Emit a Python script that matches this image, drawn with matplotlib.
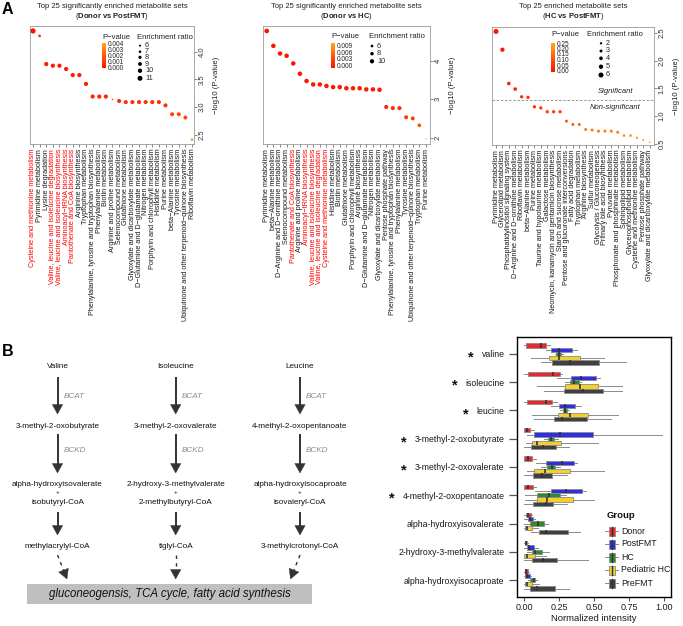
import numpy as np
import matplotlib
matplotlib.use("Agg")
import matplotlib.pyplot as plt
from matplotlib.colors import LinearSegmentedColormap
from matplotlib.patches import Rectangle, Polygon

plt.rcParams['font.family'] = ['Liberation Sans', 'DejaVu Sans']
plt.rcParams['mathtext.fontset'] = 'custom'
plt.rcParams['mathtext.rm'] = 'Liberation Sans'
plt.rcParams['mathtext.bf'] = 'Liberation Sans:bold'
plt.rcParams['mathtext.it'] = 'Liberation Sans:italic'

W, H = 683, 626

# ---------------- Panel A data ----------------
sets_dp = ["Cysteine and methionine metabolism", "Pyrimidine metabolism", "Lysine degradation",
           "Valine, leucine and isoleucine degradation", "Valine, leucine and isoleucine biosynthesis",
           "Aminoacyl−tRNA biosynthesis", "Pantothenate and CoA biosynthesis", "Arginine biosynthesis",
           "Tryptophan metabolism", "Phenylalanine, tyrosine and tryptophan biosynthesis",
           "Phenylalanine metabolism", "Biotin metabolism", "Arginine and proline metabolism",
           "Selenocompound metabolism", "Glutathione metabolism", "Glyoxylate and dicarboxylate metabolism",
           "D−Glutamine and D−glutamate metabolism", "Nitrogen metabolism",
           "Porphyrin and chlorophyll metabolism", "Histidine metabolism", "Purine metabolism",
           "beta−Alanine metabolism", "Tyrosine metabolism",
           "Ubiquinone and other terpenoid−quinone biosynthesis", "Riboflavin metabolism"]
logp_dp = [4.38, 4.29, 3.78, 3.75, 3.75, 3.69, 3.58, 3.58, 3.42, 3.19, 3.19, 3.19, 3.14, 3.11, 3.09,
           3.09, 3.09, 3.09, 3.09, 3.09, 3.03, 2.87, 2.87, 2.81, 2.41]
ratio_dp = [11.5, 7.0, 9.7, 9.7, 9.7, 9.7, 9.7, 9.7, 9.7, 9.7, 9.7, 9.7, 5.0, 9.5, 9.5, 9.5, 9.5,
            9.5, 9.5, 9.5, 9.5, 9.3, 9.3, 9.3, 7.0]
red_dp = ["Cysteine and methionine metabolism", "Valine, leucine and isoleucine degradation",
          "Valine, leucine and isoleucine biosynthesis", "Aminoacyl−tRNA biosynthesis",
          "Pantothenate and CoA biosynthesis"]

sets_dh = ["Pyrimidine metabolism", "beta−Alanine metabolism", "D−Arginine and D−ornithine metabolism",
           "Selenocompound metabolism", "Pantothenate and CoA biosynthesis", "Arginine and proline metabolism",
           "Aminoacyl−tRNA biosynthesis", "Valine, leucine and isoleucine biosynthesis",
           "Valine, leucine and isoleucine degradation", "Cysteine and methionine metabolism",
           "Histidine metabolism", "Biotin metabolism", "Glutathione metabolism",
           "Porphyrin and chlorophyll metabolism", "Arginine biosynthesis",
           "D−Glutamine and D−glutamate metabolism", "Nitrogen metabolism",
           "Glyoxylate and dicarboxylate metabolism", "Pentose phosphate pathway",
           "Phenylalanine, tyrosine and tryptophan biosynthesis", "Phenylalanine metabolism",
           "Tyrosine metabolism", "Ubiquinone and other terpenoid−quinone biosynthesis",
           "Tryptophan metabolism", "Purine metabolism"]
logp_dh = [4.79, 4.40, 4.20, 4.14, 3.94, 3.67, 3.48, 3.39, 3.39, 3.35, 3.32, 3.32, 3.29, 3.29, 3.29,
           3.26, 3.26, 3.25, 2.80, 2.77, 2.77, 2.53, 2.50, 2.32, 1.96]
ratio_dh = [11.0, 10.5, 10.5, 10.5, 10.5, 10.5, 10.5, 10.5, 10.5, 10.5, 10.5, 10.5, 10.5, 10.5, 10.5,
            10.5, 10.5, 10.5, 9.5, 9.5, 9.5, 9.3, 9.3, 8.5, 2.5]
red_dh = ["Pantothenate and CoA biosynthesis", "Aminoacyl−tRNA biosynthesis",
          "Valine, leucine and isoleucine biosynthesis", "Valine, leucine and isoleucine degradation",
          "Cysteine and methionine metabolism"]

sets_hp = ["Pyrimidine metabolism", "Glycerolipid metabolism", "Phosphatidylinositol signaling system",
           "D−Arginine and D−ornithine metabolism", "Riboflavin metabolism", "beta−Alanine metabolism",
           "Purine metabolism", "Taurine and hypotaurine metabolism", "Galactose metabolism",
           "Neomycin, kanamycin and gentamicin biosynthesis", "Starch and sucrose metabolism",
           "Pentose and glucuronate interconversions", "Fatty acid degradation", "Tryptophan metabolism",
           "Arginine biosynthesis", "Sulfur metabolism", "Glycolysis / Gluconeogenesis",
           "Primary bile acid biosynthesis", "Pyruvate metabolism", "Phosphonate and phosphinate metabolism",
           "Sphingolipid metabolism", "Glycerophospholipid metabolism", "Cysteine and methionine metabolism",
           "Pentose phosphate pathway", "Glyoxylate and dicarboxylate metabolism"]
logp_hp = [2.53, 2.20, 1.59, 1.49, 1.35, 1.34, 1.17, 1.15, 1.08, 1.08, 1.08, 0.91, 0.85, 0.85, 0.76,
           0.75, 0.73, 0.73, 0.73, 0.71, 0.65, 0.65, 0.61, 0.57, 0.53]
ratio_hp = [6.0, 5.0, 4.0, 4.0, 3.5, 3.5, 3.5, 3.5, 3.5, 3.5, 3.5, 3.0, 3.0, 3.0, 3.0, 3.0, 3.0, 3.0,
            3.0, 3.0, 2.5, 2.5, 2.0, 1.6, 1.2]

# ---------------- Panel B data ----------------
metabolites = ["valine", "isoleucine", "leucine", "3-methyl-2-oxobutyrate", "3-methyl-2-oxovalerate",
               "4-methyl-2-oxopentanoate", "alpha-hydroxyisovalerate", "2-hydroxy-3-methylvalerate",
               "alpha-hydroxyisocaproate"]
starred = [0, 1, 2, 3, 4, 5]
groups = ["Donor", "PostFMT", "HC", "Pediatric HC", "PreFMT"]
group_colors = ["#E8282B", "#2F2FE0", "#2E8A2E", "#F4D12A", "#404040"]
# (whisker low, Q1, median, Q3, whisker high) for each metabolite
donor_stats = [[0.0, 0.012, 0.12, 0.154, 0.184], [0.0, 0.031, 0.205, 0.257, 0.274],
               [0.0, 0.023, 0.156, 0.2, 0.237], [0.0, 0.0, 0.024, 0.043, 0.073],
               [0.0, 0.0, 0.03, 0.059, 0.083], [0.0, 0.002, 0.03, 0.064, 0.083],
               [0.0, 0.012, 0.03, 0.047, 0.06], [0.0, 0.007, 0.015, 0.024, 0.03],
               [0.0, 0.007, 0.015, 0.03, 0.035]]
postfmt_stats = [[0.16, 0.194, 0.248, 0.345, 0.376], [0.239, 0.333, 0.409, 0.511, 0.546],
                 [0.191, 0.25, 0.291, 0.362, 0.404], [0.02, 0.071, 0.255, 0.492, 0.988],
                 [0.083, 0.156, 0.274, 0.355, 0.381], [0.078, 0.193, 0.3, 0.412, 0.44],
                 [0.0, 0.026, 0.04, 0.066, 0.08], [0.0, 0.019, 0.035, 0.071, 0.1],
                 [0.0, 0.01, 0.02, 0.04, 0.05]]
hc_stats = [[0.22, 0.232, 0.248, 0.267, 0.28], [0.29, 0.326, 0.36, 0.39, 0.41],
            [0.26, 0.28, 0.291, 0.307, 0.32], [0.14, 0.168, 0.19, 0.215, 0.24],
            [0.12, 0.165, 0.2, 0.22, 0.26], [0.01, 0.094, 0.175, 0.26, 0.3],
            [0.0, 0.043, 0.1, 0.142, 0.172], [0.02, 0.054, 0.078, 0.125, 0.18],
            [0.03, 0.045, 0.07, 0.078, 0.09]]
pediatric_stats = [[0.047, 0.176, 0.25, 0.397, 0.572], [0.09, 0.291, 0.397, 0.527, 0.697],
                   [0.06, 0.243, 0.326, 0.456, 0.67], [0.014, 0.054, 0.094, 0.262, 0.527],
                   [0.02, 0.073, 0.149, 0.326, 0.574], [0.01, 0.09, 0.161, 0.35, 0.503],
                   [0.0, 0.007, 0.02, 0.059, 0.1], [0.0, 0.0, 0.02, 0.078, 0.16],
                   [0.0, 0.007, 0.02, 0.054, 0.11]]
prefmt_stats = [[0.12, 0.203, 0.326, 0.539, 0.73], [0.144, 0.284, 0.421, 0.567, 0.697],
                [0.071, 0.215, 0.274, 0.452, 0.622], [0.0, 0.047, 0.137, 0.225, 0.319],
                [0.0, 0.064, 0.125, 0.198, 0.31], [0.0, 0.062, 0.154, 0.208, 0.31],
                [0.047, 0.106, 0.154, 0.314, 0.397], [0.0, 0.06, 0.137, 0.236, 0.456],
                [0.0, 0.043, 0.094, 0.22, 0.32]]
all_stats = [donor_stats, postfmt_stats, hc_stats, pediatric_stats, prefmt_stats]
xticks_b = [0.0, 0.25, 0.5, 0.75, 1.0]
xticklabels_b = ["0.00", "0.25", "0.50", "0.75", "1.00"]

# pathway diagram text
amino_acids = ["Valine", "Isoleucine", "Leucine"]
keto_acids = ["3-methyl-2-oxobutyrate", "3-methyl-2-oxovalerate", "4-methyl-2-oxopentanoate"]
hydroxy_acids = ["alpha-hydroxyisovalerate", "2-hydroxy-3-methylvalerate", "alpha-hydroxyisocaproate"]
acyl_coas = ["isobutyryl-CoA", "2-methylbutyryl-CoA", "isovaleryl-CoA"]
final_coas = ["methylacrylyl-CoA", "tiglyl-CoA", "3-methylcrotonyl-CoA"]
enzymes = ["BCAT", "BCKD"]
end_text = "gluconeogensis, TCA cycle, fatty acid synthesis"

# ---------------- figure ----------------
fig = plt.figure(figsize=(W / 100, H / 100), dpi=100)
cmap = LinearSegmentedColormap.from_list("pv", ["#FF1200", "#FF5A0A", "#FFA71E"])


def add_ax(x0, y0, x1, y1):
    return fig.add_axes([x0 / W, 1 - y1 / H, (x1 - x0) / W, (y1 - y0) / H])


ov = fig.add_axes([0, 0, 1, 1])
ov.set_zorder(10)
ov.axis('off')


def px2pt_area(d):
    return (d * 0.72) ** 2


def dotpanel(box, names, logp, ratio, reds, pmax, dfun, ylim, yticks, ytl, xlim, t1, t2):
    ax = add_ax(*box)
    x = np.arange(1, len(names) + 1)
    lp = np.array(logp)
    p = 10 ** (-lp)
    cols = cmap(np.clip(p / pmax, 0, 1))
    d = dfun(np.array(ratio))
    ax.scatter(x, lp, s=px2pt_area(d), c=cols, edgecolors='none', zorder=3, clip_on=False)
    ax.set_xlim(*xlim)
    ax.set_ylim(*ylim)
    ax.tick_params(length=2, width=0.5, color='#555', pad=1.5)
    ax.tick_params(axis='y', labelcolor='#333')
    ax.set_xticks(x)
    ax.set_xticklabels(names, rotation=90, fontsize=5.2)
    for lab, nm in zip(ax.get_xticklabels(), names):
        lab.set_color('#FF0000' if nm in reds else '#1a1a1a')
    ax.yaxis.tick_right()
    ax.set_yticks(yticks)
    ax.set_yticklabels(ytl, fontsize=5.5, rotation=90, va='center')
    ax.yaxis.set_label_position('right')
    ax.set_ylabel('−log10 (P-value)', fontsize=5.6, labelpad=5, color='#222')
    for sp in ax.spines.values():
        sp.set_color('#9a9a9a')
        sp.set_linewidth(0.6)
    cx = (box[0] + box[2]) / 2
    ov.text(cx, 6.5, t1, ha='center', va='center', fontsize=5.5, color='#222')
    ov.text(cx, 16.5, t2, ha='center', va='center', fontsize=5.5, color='#222')
    return ax


def dp_size(r):
    return 2.0 + (r - 6) * 0.6


def dh_size(r):
    return 2.7 + (r - 6) * 0.4


def hp_size(r):
    return 2.3 + (r - 2) * 0.675


ax1 = dotpanel((30, 26, 194, 144), sets_dp, logp_dp, ratio_dp, red_dp, 0.0042, dp_size,
               (2.33, 4.47), [2.5, 3.0, 3.5, 4.0], ["2.5", "3.0", "3.5", "4.0"], (0.55, 25.3),
               "Top 25 significantly enriched metabolite sets", r"($\mathbf{Donor\ vs\ PostFMT}$)")
ax2 = dotpanel((263, 26, 430, 144), sets_dh, logp_dh, ratio_dh, red_dh, 0.0107, dh_size,
               (1.83, 4.92), [2, 3, 4], ["2", "3", "4"], (0.44, 25.6),
               "Top 25 significantly enriched metabolite sets", r"($\mathbf{Donor\ vs\ HC}$)")
ax3 = dotpanel((492, 27, 654, 145), sets_hp, logp_hp, ratio_hp, [], 0.27, hp_size,
               (0.48, 2.61), [0.5, 1.0, 1.5, 2.0, 2.5], ["0.5", "1.0", "1.5", "2.0", "2.5"], (0.375, 25.67),
               "Top 25 enriched metabolite sets", r"($\mathbf{HC\ vs\ PostFMT}$)")
ax3.axhline(-np.log10(0.05), color='#888', lw=0.6, ls=(0, (3, 2)), zorder=1)
ax3.text(19.6, 1.45, "Significant", fontsize=5.5, style='italic', ha='center', va='center', color='#222')
ax3.text(19.6, 1.16, "Non-significant", fontsize=5.5, style='italic', ha='center', va='center', color='#222')

grad = np.linspace(0, 1, 100).reshape(-1, 1)


def legendA(cb_x, cb_y0, cb_y1, pt_title_x, ptick_labels, ptick_y, er_title_x, er_dot_x, er_vals, er_y, dfun, title_y):
    ov.imshow(grad, extent=(cb_x, cb_x + 4, cb_y1, cb_y0), aspect='auto', cmap=cmap, origin='lower', zorder=5)
    ov.text(pt_title_x, title_y, "P−value", fontsize=5.5, ha='center', va='center', color='#222')
    for lab, yy in zip(ptick_labels, ptick_y):
        ov.text(cb_x + 6, yy, lab, fontsize=4.7, ha='left', va='center', color='#222')
    ov.text(er_title_x, title_y, "Enrichment ratio", fontsize=5.5, ha='center', va='center', color='#222')
    for v, yy in zip(er_vals, er_y):
        ov.scatter([er_dot_x], [yy], s=px2pt_area(dfun(v)), color='black', edgecolors='none', zorder=6)
        ov.text(er_dot_x + 5, yy, str(v), fontsize=5.2, ha='left', va='center', color='#222')


legendA(102, 43.5, 68.5, 116, ["0.004", "0.003", "0.002", "0.001", "0.000"],
        np.linspace(44, 68.3, 5), 165, 140, [6, 7, 8, 9, 10, 11],
        [45.7, 51.7, 57.3, 64, 70.7, 78.3], dp_size, 37.5)
legendA(331, 43.5, 67.7, 345, ["0.009", "0.006", "0.003", "0.000"],
        [47, 53.7, 59.7, 66], 397, 372, [6, 8, 10], [46, 53.7, 61.3], dh_size, 36.5)
legendA(551, 43.5, 71.7, 565, ["0.25", "0.20", "0.15", "0.10", "0.05", "0.00"],
        np.linspace(44, 71.5, 6), 615, 601, [2, 3, 4, 5, 6], [43.3, 51, 58.3, 66.7, 75], hp_size, 34)

ov.text(2, 10, "A", fontsize=11.5, fontweight='bold', ha='left', va='center')
ov.text(2, 352, "B", fontsize=11.5, fontweight='bold', ha='left', va='center')

# ---------------- pathway diagram ----------------
col_x = [57.5, 175.7, 300.0]
ac = '#333333'


def arrow(x0, y0, x1, y1, dashed=False):
    v = np.array([x1 - x0, y1 - y0], float)
    L = np.hypot(*v)
    u = v / L
    n = np.array([-u[1], u[0]])
    hl, hw = 9.5, 5.2
    base = np.array([x1, y1]) - u * hl
    ov.plot([x0, base[0] + u[0]], [y0, base[1] + u[1]], color=ac, lw=1.4 if not dashed else 1.0,
            ls=(0, (2.5, 3)) if dashed else '-', solid_capstyle='butt')
    tri = [[x1, y1], base + n * hw, base - n * hw]
    ov.add_patch(Polygon(tri, closed=True, facecolor=ac, edgecolor=ac, lw=0.3))


fs_d = 5.9
for i, cx in enumerate(col_x):
    ov.text(cx, 366, amino_acids[i], fontsize=fs_d, ha='center', va='center', color='#111')
    arrow(cx, 377, cx, 414)
    ov.text(cx + 6, 396, enzymes[0], fontsize=5.9, style='italic', color='#8c8c8c', ha='left', va='center')
    ov.text(cx, 426, keto_acids[i], fontsize=fs_d, ha='center', va='center', color='#111')
    arrow(cx, 434, cx, 473)
    ov.text(cx + 6, 450, enzymes[1], fontsize=5.9, style='italic', color='#8c8c8c', ha='left', va='center')
    ov.text(cx, 485, hydroxy_acids[i], fontsize=fs_d, ha='center', va='center', color='#111')
    ov.text(cx, 492.5, "+", fontsize=4.5, ha='center', va='center', color='#111')
    ov.text(cx, 502, acyl_coas[i], fontsize=fs_d, ha='center', va='center', color='#111')
    arrow(cx, 512, cx, 535)
    ov.text(cx, 547, final_coas[i], fontsize=fs_d, ha='center', va='center', color='#111')

arrow(57.5, 555, 67, 579, dashed=True)
arrow(175.7, 555, 175.7, 579, dashed=True)
arrow(300.0, 555, 290.5, 579, dashed=True)
ov.add_patch(Rectangle((27, 584), 285, 20, facecolor='#BFBFBF', edgecolor='none'))
ov.text(169.5, 594, end_text, fontsize=8.3, style='italic', ha='center', va='center', color='#111')

# ---------------- boxplot ----------------
axb = add_ax(517, 337, 671, 597)
ypos = np.arange(len(metabolites))
for g, (gname, col, st) in enumerate(zip(groups, group_colors, all_stats)):
    stats = [dict(whislo=s[0], q1=s[1], med=s[2], q3=s[3], whishi=s[4], fliers=[]) for s in st]
    pos = ypos + (g - 2) * 0.15
    kw = dict(positions=pos, widths=0.155, patch_artist=True, showfliers=False, showcaps=False,
              boxprops=dict(facecolor=col, edgecolor='#8a8a8a', linewidth=0.6, zorder=2),
              whiskerprops=dict(color='#8a8a8a', linewidth=0.7, zorder=1),
              medianprops=dict(color='#333333', linewidth=1.2, zorder=3), manage_ticks=False)
    try:
        axb.bxp(stats, orientation='horizontal', **kw)
    except TypeError:
        axb.bxp(stats, vert=False, **kw)
axb.set_xlim(-0.05, 1.05)
axb.set_ylim(8.6, -0.6)
axb.set_yticks(ypos)
axb.set_yticklabels(metabolites, fontsize=6.3, color='#1a1a1a')
axb.set_xticks(xticks_b)
axb.set_xticklabels(xticklabels_b, fontsize=6.5, color='#1a1a1a')
axb.set_xlabel("Normalized intensity", fontsize=6.8, labelpad=1.5, color='#1a1a1a')
axb.tick_params(axis='y', length=6, width=0.9, color='#555', pad=3)
axb.tick_params(axis='x', length=3, width=0.8, color='#555', pad=1.5)
for sp in axb.spines.values():
    sp.set_color('black')
    sp.set_linewidth(1.0)

# group legend
ov.text(607, 515, "Group", fontsize=6.8, fontweight='bold', ha='left', va='center', color='#111')
for k, (gname, col) in enumerate(zip(groups, group_colors)):
    yc = 531 + k * 13
    ov.plot([605, 618], [yc, yc], color='#8a8a8a', lw=0.7, zorder=4)
    ov.add_patch(Rectangle((608.5, yc - 4.5), 6, 9, facecolor=col, edgecolor='#8a8a8a', lw=0.6, zorder=5))
    ov.plot([611.5, 611.5], [yc - 4.5, yc + 4.5], color='#333', lw=1.0, zorder=6)
    ov.text(621, yc, gname, fontsize=6.3, ha='left', va='center', color='#1a1a1a')

ov.set_xlim(0, W)
ov.set_ylim(H, 0)

# stars in front of significant metabolites
fig.canvas.draw()
rend = fig.canvas.get_renderer()
labs = axb.get_yticklabels()
for i in starred:
    bb = labs[i].get_window_extent(rend)
    xs = bb.x0 - 11
    ys = H - (bb.y0 + bb.y1) / 2
    ov.text(xs, ys + 2.5, "*", fontsize=10.5, fontweight='bold', ha='center', va='center', color='#111')
ov.set_xlim(0, W)
ov.set_ylim(H, 0)

fig.savefig("out.png", dpi=100)
